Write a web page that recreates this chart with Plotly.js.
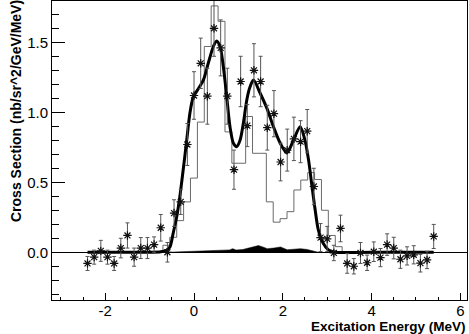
<!DOCTYPE html>
<html lang="en">
<head>
    <meta charset="UTF-8">
    <title>Cross Section vs Excitation Energy</title>
    <script src="https://cdn.plot.ly/plotly-3.0.1.min.js"></script>
    <style>
        html, body { margin: 0; padding: 0; background: #fff; }
        #plot { width: 469px; height: 334px; }
    </style>
</head>
<body>
    <div id="plot"></div>

    <script>
        // measured points
        const energy = [-2.4, -2.25, -2.1, -1.95, -1.8, -1.65, -1.5, -1.35, -1.2, -1.05, -0.9, -0.75, -0.6,
            -0.45, -0.3, -0.15, 0, 0.15, 0.3, 0.45, 0.6, 0.75, 0.9, 1.05, 1.2, 1.35, 1.5, 1.65, 1.8, 1.95,
            2.1, 2.25, 2.4, 2.55, 2.7, 2.85, 3.0, 3.15, 3.3, 3.45, 3.6, 3.75, 3.9, 4.05, 4.2, 4.35, 4.5,
            4.65, 4.8, 4.95, 5.1, 5.25, 5.4];
        const crossSection = [-0.08, -0.035, 0.01, -0.035, -0.08, 0.03, 0.12, -0.035, 0.03, 0.03, 0.055, 0.175, 0.0,
            0.28, 0.36, 0.77, 1.12, 1.35, 1.115, 1.60, 1.46, 1.115, 0.59, 1.22, 0.905, 1.30, 1.22, 0.89, 0.99, 0.645,
            0.73, 0.81, 0.79, 0.865, 0.47, 0.105, 0.095, -0.005, 0.17, -0.08, -0.10, -0.005, -0.075, 0.004, -0.038, 0.055, 0.03,
            -0.05, -0.026, -0.018, -0.078, -0.055, 0.113];
        const crossErr = [0.05, 0.05, 0.075, 0.05, 0.05, 0.07, 0.09, 0.065, 0.075, 0.075, 0.055, 0.095, 0.07,
            0.095, 0.09, 0.15, 0.17, 0.18, 0.2, 0.2, 0.2, 0.2, 0.14, 0.18, 0.15, 0.19, 0.18, 0.16, 0.165, 0.135,
            0.15, 0.155, 0.15, 0.155, 0.13, 0.1, 0.09, 0.055, 0.095, 0.07, 0.055, 0.075, 0.055, 0.07, 0.065, 0.077, 0.077,
            0.065, 0.065, 0.065, 0.063, 0.062, 0.086];

        // simulated spectrum (step histogram, left edges)
        const histEdges = [-0.856, -0.701, -0.546, -0.390, -0.235, -0.080, 0.076, 0.231, 0.386, 0.542, 0.697,
            0.852, 1.008, 1.163, 1.318, 1.473, 1.629, 1.784, 1.939, 2.095, 2.250, 2.405, 2.561, 2.716, 2.871,
            3.026, 3.182, 3.337];
        const histValues = [0, 0.05, 0.107, 0.226, 0.36, 0.53, 0.93, 1.47, 1.76, 1.65, 0.86,
            0.636, 0.636, 0.97, 0.707, 0.707, 0.36, 0.215, 0.24, 0.29, 0.445, 0.516, 0.569, 0.52, 0.30,
            0.12, 0.04, 0];

        // fitted curve
        const fitEnergy = [-2.4, -1.0, -0.75, -0.62, -0.54, -0.47, -0.39, -0.32, -0.24, -0.165, -0.09, -0.016,
            0.1, 0.21, 0.32, 0.435, 0.51, 0.586, 0.66, 0.737, 0.81, 0.886, 0.96, 1.037, 1.11, 1.19, 1.26, 1.34,
            1.49, 1.64, 1.79, 1.94, 2.09, 2.24, 2.39, 2.5, 2.58, 2.65, 2.73, 2.8, 2.91, 3.03, 3.2, 4.0, 5.4];
        const fitValues = [0, 0, 0.003, 0.015, 0.04, 0.136, 0.254, 0.397, 0.6, 0.8, 1.0, 1.11,
            1.17, 1.23, 1.35, 1.47, 1.51, 1.47, 1.326, 1.11, 0.897, 0.78, 0.754, 0.80, 0.92, 1.09, 1.18, 1.23,
            1.136, 1.03, 0.897, 0.78, 0.71, 0.80, 0.897, 0.80, 0.66, 0.49, 0.30, 0.16, 0.064, 0.016, 0, 0, 0];

        // small background (black fill)
        const bgEnergy = [-0.6, -0.3, 0.0, 0.3, 0.6, 0.8, 0.87, 0.95, 1.1, 1.3, 1.45, 1.55, 1.65, 1.8,
            1.95, 2.1, 2.25, 2.4, 2.55, 2.7, 2.8];
        const bgValues = [0, 0.003, 0.005, 0.007, 0.01, 0.017, 0.026, 0.016, 0.02, 0.034, 0.048, 0.038, 0.026, 0.03,
            0.038, 0.018, 0.022, 0.026, 0.02, 0.008, 0];

        const xTickVals = [-2, 0, 2, 4, 6];
        const xTickText = ['-2', '0', '2', '4', '6'];
        const yTickVals = [0, 0.5, 1.0, 1.5];
        const yTickText = ['0.0', '0.5', '1.0', '1.5'];

        const font = 'Liberation Sans, Arial, Helvetica, sans-serif';

        const histTrace = {
            x: histEdges, y: histValues,
            type: 'scatter', mode: 'lines',
            line: { color: '#6a6a6a', width: 1, shape: 'hv' },
            hoverinfo: 'skip'
        };

        const bgTrace = {
            x: bgEnergy, y: bgValues,
            type: 'scatter', mode: 'lines',
            fill: 'tozeroy', fillcolor: '#000',
            line: { color: '#000', width: 0.5 }
        };

        const fitTrace = {
            x: fitEnergy, y: fitValues,
            type: 'scatter', mode: 'lines',
            line: { color: '#000', width: 3, shape: 'spline', smoothing: 0.8 }
        };

        const dataTrace = {
            x: energy, y: crossSection,
            type: 'scatter', mode: 'markers',
            marker: { symbol: 'asterisk-open', size: 7, color: '#111', line: { color: '#111', width: 1.2 } },
            error_y: { type: 'data', array: crossErr, visible: true, color: '#555', thickness: 1, width: 2 }
        };

        const layout = {
            width: 469, height: 334,
            margin: { l: 52, r: 2, t: 1, b: 34 },
            paper_bgcolor: '#fff', plot_bgcolor: '#fff',
            showlegend: false,
            font: { family: font, size: 14, color: '#000' },
            xaxis: {
                range: [-3.2, 6.15],
                tickmode: 'array', tickvals: xTickVals, ticktext: xTickText,
                ticks: 'inside', ticklen: 7, tickcolor: '#000', tickwidth: 1,
                ticklabelstandoff: -3,
                minor: { dtick: 0.5, ticks: 'inside', ticklen: 3.5, tickcolor: '#000', showgrid: false },
                showgrid: false, zeroline: false,
                showline: true, mirror: true, linecolor: '#000', linewidth: 1,
                tickfont: { family: font, size: 15 }
            },
            yaxis: {
                range: [-0.341, 1.795],
                tickmode: 'array', tickvals: yTickVals, ticktext: yTickText,
                ticks: 'inside', ticklen: 13, tickcolor: '#000', tickwidth: 1,
                minor: { dtick: 0.1, ticks: 'inside', ticklen: 7, tickcolor: '#000', showgrid: false },
                showgrid: false,
                zeroline: true, zerolinecolor: '#000', zerolinewidth: 1,
                showline: true, mirror: true, linecolor: '#000', linewidth: 1,
                tickfont: { family: font, size: 15 }
            },
            annotations: [
                {
                    text: 'Excitation Energy (MeV)',
                    xref: 'paper', yref: 'paper', x: 1, y: 0,
                    xanchor: 'right', yanchor: 'middle', yshift: -26.5,
                    borderpad: 0, showarrow: false,
                    font: { family: font, size: 13.5, color: '#000', weight: 'bold' }
                },
                {
                    text: 'Cross Section (nb/sr^2/GeV/MeV)',
                    xref: 'paper', yref: 'paper', x: 0, y: 1,
                    xanchor: 'center', yanchor: 'top', xshift: -36, yshift: 2,
                    borderpad: 0, textangle: -90, showarrow: false,
                    font: { family: font, size: 14, color: '#000', weight: 'bold' }
                }
            ]
        };

        Plotly.newPlot('plot', [histTrace, bgTrace, fitTrace, dataTrace], layout, { displayModeBar: false, staticPlot: true });
    </script>
</body>
</html>
